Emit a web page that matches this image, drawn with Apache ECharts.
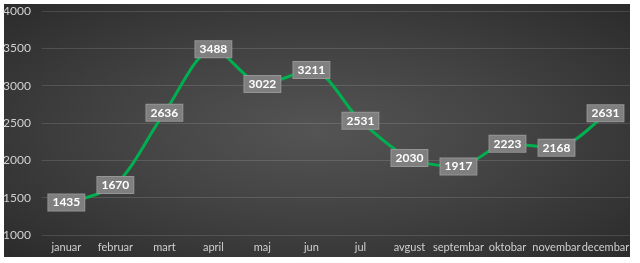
<!DOCTYPE html>
<html><head><meta charset="utf-8">
<script src="https://cdn.jsdelivr.net/npm/echarts@6/dist/echarts.min.js"></script>
<style>
html,body{margin:0;padding:0;background:#fff;}
#bg{position:absolute;left:4px;top:4px;width:626px;height:253px;background:radial-gradient(ellipse at 50% 50%,#545454 0%,#434343 45%,#2b2b2b 100%);}
#c{position:absolute;left:0;top:0;width:640px;height:263px;}
</style></head>
<body>
<div id="bg"></div>
<div id="c"></div>
<script>
const months = ['januar','februar','mart','april','maj','jun','jul','avgust','septembar','oktobar','novembar','decembar'];
const values = [1435,1670,2636,3488,3022,3211,2531,2030,1917,2223,2168,2631];
const yMin = 1000, yMax = 4000, yStep = 500;
const FONT = 'Lato, "Noto Sans", sans-serif';

const chart = echarts.init(document.getElementById('c'));
chart.setOption({
  backgroundColor: 'transparent',
  animation: false,
  grid: {left: 41, right: 10, top: 11, bottom: 28},
  xAxis: {
    type: 'category', data: months, boundaryGap: true,
    axisLine: {show: false}, axisTick: {show: false},
    axisLabel: {color: '#d0d0d0', fontSize: 11, fontFamily: FONT, margin: 7, interval: 0}
  },
  yAxis: {
    type: 'value', min: yMin, max: yMax, interval: yStep,
    axisLine: {show: false}, axisTick: {show: false},
    axisLabel: {color: '#d0d0d0', fontSize: 12, fontFamily: FONT, margin: 11,
      formatter: v => String(v)},
    splitLine: {lineStyle: {color: 'rgba(255,255,255,0.13)', width: 1}}
  },
  series: [{
    type: 'line', data: values, smooth: 0.3,
    symbol: 'circle', symbolSize: 2, showSymbol: true,
    itemStyle: {color: '#00b050'},
    lineStyle: {color: '#00b050', width: 3},
    label: {
      show: true, position: 'inside', color: '#fff', fontWeight: 'bold', fontSize: 12,
      fontFamily: FONT,
      backgroundColor: '#7f7f7f', borderColor: '#959595', borderWidth: 1,
      padding: [2, 4]
    }
  }]
});
</script>
</body></html>
